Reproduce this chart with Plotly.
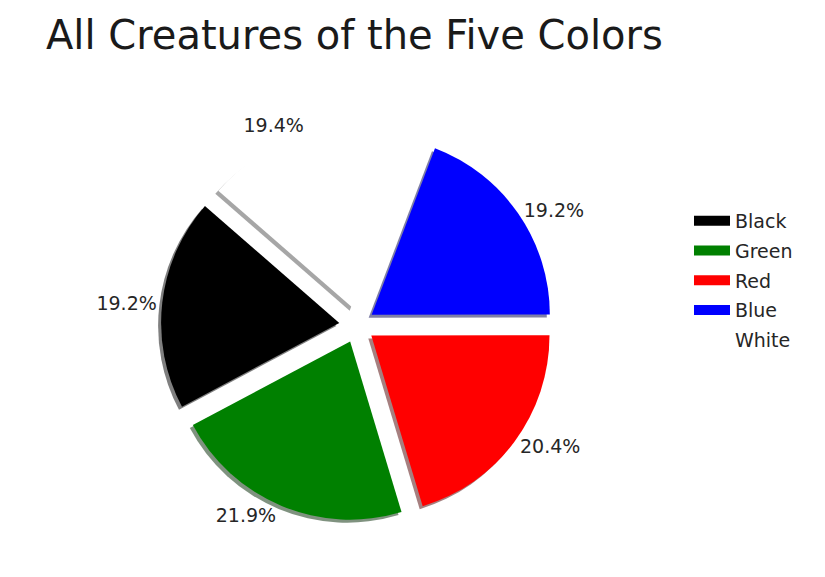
import plotly.graph_objects as go

labels = ["Black", "Green", "Red", "Blue", "White"]
values = [19.2, 21.9, 20.4, 19.2, 19.4]
colors = ["#000000", "#008000", "#ff0000", "#0000ff", "#ffffff"]
shadow_colors = ["rgba(0,0,0,0.5)", "rgba(0,38,0,0.5)", "rgba(77,0,0,0.5)",
                 "rgba(0,0,77,0.5)", "rgba(77,77,77,0.5)"]
pulls = [0.1, 0.1, 0.1, 0.1, 0.1]

W, H = 825, 577
cx, cy, half = 349, 317, 196
dom_x = [(cx - half) / W, (cx + half) / W]
dom_y = [1 - (cy + half) / H, 1 - (cy - half) / H]
sx, sy = -3 / W, -3 / H

fig = go.Figure()
fig.add_trace(go.Pie(
    labels=labels, values=values, sort=False, direction="counterclockwise",
    rotation=-118, pull=pulls, marker=dict(colors=shadow_colors, line=dict(width=0)),
    textinfo="none", hoverinfo="skip", showlegend=False,
    domain=dict(x=[dom_x[0] + sx, dom_x[1] + sx], y=[dom_y[0] + sy, dom_y[1] + sy]),
))
fig.add_trace(go.Pie(
    labels=labels, values=values, sort=False, direction="counterclockwise",
    rotation=-118, pull=pulls, marker=dict(colors=colors, line=dict(width=0)),
    textinfo="percent", texttemplate="%{percent:.1%}", textposition="outside",
    outsidetextfont=dict(size=19, color="#262626", family="DejaVu Sans"),
    showlegend=False,
    domain=dict(x=dom_x, y=dom_y),
))
# legend entries (one per label) drawn as wide colour patches
for lab, col in zip(labels, colors):
    fig.add_trace(go.Scatter(
        x=[None], y=[None], mode="lines", name=lab, legendgroup=lab,
        line=dict(color=col, width=12), hoverinfo="skip",
    ))
fig.update_layout(
    width=W, height=H,
    margin=dict(l=0, r=0, t=0, b=0),
    paper_bgcolor="white", plot_bgcolor="white",
    xaxis=dict(visible=False), yaxis=dict(visible=False),
    title=dict(text="All Creatures of the Five Colors", x=38 / W, xanchor="left",
               y=1 - 27 / H, yanchor="middle",
               font=dict(family="DejaVu Sans", size=40, color="#1a1a1a")),
    legend=dict(x=681 / W, y=1 - 194 / H, xanchor="left", yanchor="top",
                font=dict(family="DejaVu Sans", size=19, color="#262626"),
                itemwidth=36, tracegroupgap=2),
    font=dict(family="DejaVu Sans"),
)
fig.write_html("out.html")
